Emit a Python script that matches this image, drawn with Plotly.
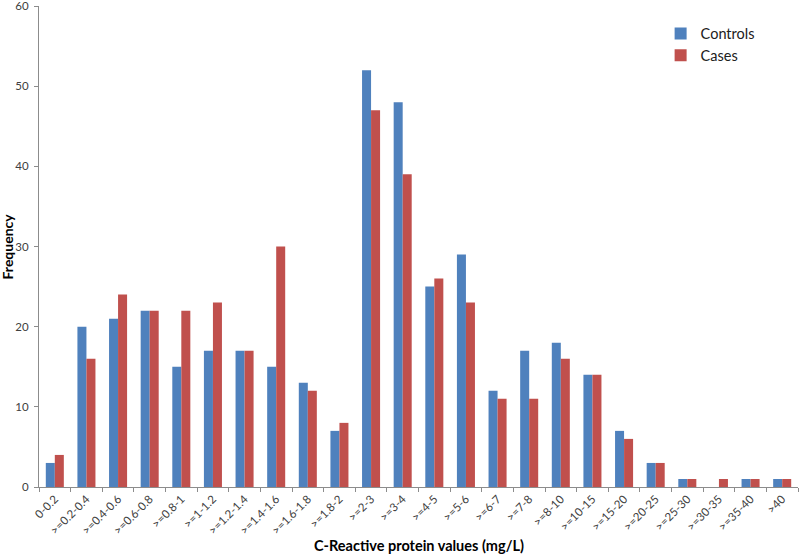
import plotly.graph_objects as go

categories = ["0-0.2", ">=0.2-0.4", ">=0.4-0.6", ">=0.6-0.8", ">=0.8-1", ">=1-1.2",
              ">=1.2-1.4", ">=1.4-1.6", ">=1.6-1.8", ">=1.8-2", ">=2-3", ">=3-4",
              ">=4-5", ">=5-6", ">=6-7", ">=7-8", ">=8-10", ">=10-15", ">=15-20",
              ">=20-25", ">=25-30", ">=30-35", ">=35-40", ">40"]
controls = [3, 20, 21, 22, 15, 17, 17, 15, 13, 7, 52, 48, 25, 29, 12, 17, 18, 14, 7, 3, 1, 0, 1, 1]
cases = [4, 16, 24, 22, 22, 23, 17, 30, 12, 8, 47, 39, 26, 23, 11, 11, 16, 14, 6, 3, 1, 1, 1, 1]
y_ticks = [0, 10, 20, 30, 40, 50, 60]

FONT = "Lato"
fig = go.Figure()
fig.add_trace(go.Bar(name="Controls", x=categories, y=controls, marker_color="#4F81BD", marker_line_width=0))
fig.add_trace(go.Bar(name="Cases", x=categories, y=cases, marker_color="#C0504D", marker_line_width=0))

fig.update_layout(
    width=800, height=557,
    margin=dict(l=39, r=2, t=6, b=70),
    plot_bgcolor="white", paper_bgcolor="white",
    barmode="group", bargap=0.43, bargroupgap=0,
    font=dict(family=FONT, size=11, color="#404040"),
    showlegend=True,
    legend=dict(x=0.819, y=0.976, xanchor="left", yanchor="top",
                font=dict(family=FONT, size=14.5, color="#202020"),
                bgcolor="rgba(0,0,0,0)", itemwidth=30),
)
fig.update_xaxes(
    type="category", tickangle=-45, tickson="boundaries", automargin=False,
    showline=True, linecolor="#8C8C8C", linewidth=1,
    ticks="outside", ticklen=4, tickcolor="#8C8C8C",
    tickfont=dict(family=FONT, size=11.5, color="#404040"),
    showgrid=False, ticklabeloverflow="allow",
)
fig.update_yaxes(
    range=[0, 60], tickvals=y_ticks, automargin=False,
    showline=True, linecolor="#8C8C8C", linewidth=1,
    ticks="outside", ticklen=4, tickcolor="#8C8C8C", ticklabelstandoff=3,
    tickfont=dict(family=FONT, size=11.5, color="#404040"),
    showgrid=False, zeroline=False, ticklabeloverflow="allow",
)
fig.add_annotation(text="<b>C-Reactive protein values (mg/L)</b>", xref="paper", yref="paper",
                   x=0.5, y=0, yshift=-58, xanchor="center", yanchor="middle", showarrow=False,
                   font=dict(family=FONT, size=14.5, color="#000000"))
fig.add_annotation(text="<b>Frequency</b>", xref="paper", yref="paper",
                   x=0, xshift=-32, y=0.5, xanchor="center", yanchor="middle",
                   textangle=-90, showarrow=False,
                   font=dict(family=FONT, size=14, color="#000000"))

fig.write_html("out.html", config={"displayModeBar": False},
               post_script="document.body.style.margin='0';document.body.style.overflow='hidden';")
